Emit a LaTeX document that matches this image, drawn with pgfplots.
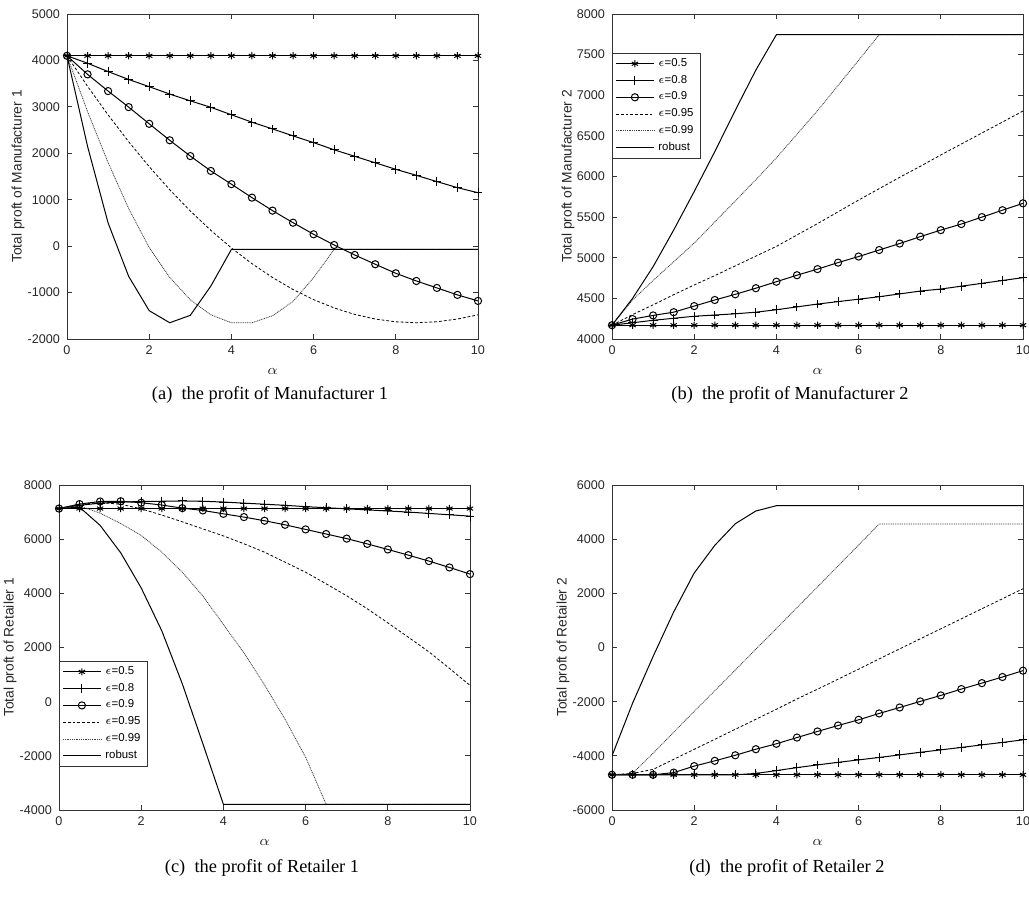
\documentclass[border=0pt]{standalone}
\usepackage{fontspec}
\setmainfont{Liberation Serif}
\newfontfamily\arial{Liberation Sans}
\usepackage{pgfplots}
\usepackage{pgfplotstable}
\pgfplotsset{compat=1.18}

% columns: alpha, eps=0.5, 0.8, 0.9, 0.95, 0.99, robust
\pgfplotstableread{
x    e05   e08   e09   e095  e099  rob
0    4100  4100  4100  4100  4100  4100
0.5  4100  3940  3700  3443  2900  2150
1    4100  3760  3340  2827  1800  500
1.5  4100  3590  2995  2250  810   -650
2    4100  3435  2635  1712  -30   -1390
2.5  4100  3275  2280  1215  -675  -1650
3    4100  3130  1940  757   -1155 -1490
3.5  4100  2990  1620  340   -1480 -860
4    4100  2830  1335  -39   -1650 -70
4.5  4100  2670  1045  -377  -1650 -70
5    4100  2525  765   -675  -1500 -70
5.5  4100  2375  505   -934  -1190 -70
6    4100  2230  255   -1152 -680  -70
6.5  4100  2075  25    -1331 -70   -70
7    4100  1935  -190  -1471 -70   -70
7.5  4100  1795  -390  -1570 -70   -70
8    4100  1655  -585  -1630 -70   -70
8.5  4100  1525  -750  -1650 -70   -70
9    4100  1390  -900  -1629 -70   -70
9.5  4100  1260  -1050 -1570 -70   -70
10   4100  1150  -1180 -1480 -70   -70
}\manA

\pgfplotstableread{
x    e05   e08   e09   e095  e099  rob
0    4170  4170  4170  4170  4170  4170
0.5  4170  4200  4245  4300  4480  4500
1    4170  4230  4290  4420  4720  4890
1.5  4170  4255  4330  4545  4950  5340
2    4170  4280  4405  4665  5180  5815
2.5  4170  4295  4480  4780  5440  6305
3    4170  4310  4550  4900  5700  6815
3.5  4170  4330  4625  5020  5960  7310
4    4170  4360  4705  5140  6230  7745
4.5  4170  4395  4785  5280  6520  7745
5    4170  4430  4860  5420  6810  7745
5.5  4170  4460  4940  5565  7120  7745
6    4170  4490  5015  5710  7430  7745
6.5  4170  4520  5095  5850  7745  7745
7    4170  4555  5175  5990  7745  7745
7.5  4170  4590  5260  6125  7745  7745
8    4170  4615  5340  6265  7745  7745
8.5  4170  4650  5415  6400  7745  7745
9    4170  4685  5500  6535  7745  7745
9.5  4170  4720  5585  6670  7745  7745
10   4170  4755  5670  6806  7745  7745
}\manB

\pgfplotstableread{
x    e05   e08   e09   e095  e099  rob
0    7130  7130  7130  7130  7130  7130
0.5  7130  7250  7295  7290  7230  7180
1    7130  7330  7390  7350  6960  6510
1.5  7130  7370  7400  7290  6580  5500
2    7130  7390  7345  7120  6140  4200
2.5  7130  7400  7260  6890  5520  2620
3    7130  7410  7145  6640  4780  660
3.5  7130  7400  7060  6380  3900  -1550
4    7130  7370  6935  6120  2850  -3790
4.5  7130  7330  6815  5830  1800  -3790
5    7130  7290  6680  5520  620   -3790
5.5  7130  7250  6530  5150  -650  -3790
6    7130  7200  6360  4780  -2050 -3790
6.5  7130  7160  6190  4350  -3790 -3790
7    7130  7120  6020  3910  -3790 -3790
7.5  7130  7080  5825  3430  -3790 -3790
8    7130  7040  5620  2910  -3790 -3790
8.5  7130  7000  5410  2380  -3790 -3790
9    7130  6950  5190  1840  -3790 -3790
9.5  7130  6900  4955  1230  -3790 -3790
10   7130  6850  4710  600   -3790 -3790
}\retA

\pgfplotstableread{
x    e05   e08   e09   e095  e099  rob
0    -4700 -4700 -4700 -4700 -4700 -4000
0.5  -4700 -4700 -4700 -4650 -4650 -2060
1    -4700 -4700 -4700 -4500 -3900 -330
1.5  -4700 -4700 -4620 -4130 -3130 1310
2    -4700 -4700 -4380 -3760 -2360 2750
2.5  -4700 -4700 -4185 -3390 -1600 3770
3    -4700 -4700 -3980 -3020 -830  4570
3.5  -4700 -4650 -3755 -2650 -60   5040
4    -4700 -4545 -3555 -2280 700   5235
4.5  -4700 -4435 -3325 -1900 1470  5235
5    -4700 -4335 -3100 -1540 2240  5235
5.5  -4700 -4240 -2880 -1170 3010  5235
6    -4700 -4150 -2670 -800  3780  5235
6.5  -4700 -4060 -2435 -420  4560  5235
7    -4700 -3965 -2215 -50   4560  5235
7.5  -4700 -3870 -1990 320   4560  5235
8    -4700 -3780 -1770 690   4560  5235
8.5  -4700 -3690 -1535 1060  4560  5235
9    -4700 -3595 -1315 1430  4560  5235
9.5  -4700 -3505 -1090 1800  4560  5235
10   -4700 -3410 -855  2170  4560  5235
}\retB

\pgfplotsset{
  prof/.style={
    scale only axis, width=205.5pt, height=162.5pt,
    xmin=0, xmax=10, xtick={0,2,...,10},
    axis line style={black!80, line width=0.4pt},
    tick style={black!80, line width=0.4pt},
    major tick length=2.5pt,
    tick label style={font=\arial\fontsize{6.3}{7}\selectfont, text=black!85},
    /pgf/number format/assume math mode=true,
    /pgf/number format/set thousands separator={},
    label style={font=\arial\fontsize{6.9}{8}\selectfont, text=black!85},
    xlabel={$\alpha$},
    ylabel style={at={(axis description cs:-0.119,0.5)}, anchor=center},
    legend cell align=left,
    legend style={font=\arial\fontsize{5.7}{6.8}\selectfont, draw=black!80,
      line width=0.4pt, inner xsep=1.5pt, inner ysep=1pt, row sep=0pt,
      nodes={inner xsep=2pt, inner ysep=1.45pt}},
    legend image code/.code={\draw[mark repeat=2,mark phase=2]
      plot coordinates {(0pt,0pt) (9.5pt,0pt) (19pt,0pt)};},
  },
  e05/.style={black, line width=0.5pt, mark=asterisk, mark size=1.8pt, mark options={solid}},
  e08/.style={black, line width=0.5pt, mark=+, mark size=2.2pt, mark options={solid}},
  e09/.style={black, line width=0.5pt, mark=o, mark size=1.8pt, mark options={solid}},
  e095/.style={black, line width=0.4pt, dash pattern=on 1.4pt off 1pt, no marks},
  e099/.style={black!75, line width=0.4pt, dash pattern=on 0.5pt off 0.4pt, no marks},
  rob/.style={black, line width=0.5pt, no marks},
}

\begin{document}
\begin{tikzpicture}
\useasboundingbox (0,0) rectangle (514.5pt,450.5pt);

\begin{axis}[prof, at={(33.5pt,281pt)}, anchor=south west,
  ymin=-2000, ymax=5000, ytick={-2000,-1000,...,5000},
  ylabel={Total proft of Manufacturer 1}]
\addplot[e05] table[x=x, y=e05] {\manA};
\addplot[e08] table[x=x, y=e08] {\manA};
\addplot[e09] table[x=x, y=e09] {\manA};
\addplot[e095] table[x=x, y=e095] {\manA};
\addplot[e099] table[x=x, y=e099] {\manA};
\addplot[rob] table[x=x, y=rob] {\manA};
\end{axis}

\begin{axis}[prof, at={(306pt,281pt)}, anchor=south west,
  ymin=4000, ymax=8000, ytick={4000,4500,...,8000},
  ylabel={Total proft of Manufacturer 2},
  ylabel style={at={(axis description cs:-0.107,0.5)}},
  legend style={at={(0,0.88)}, anchor=north west}]
\addplot[e05] table[x=x, y=e05] {\manB};
\addplot[e08] table[x=x, y=e08] {\manB};
\addplot[e09] table[x=x, y=e09] {\manB};
\addplot[e095] table[x=x, y=e095] {\manB};
\addplot[e099] table[x=x, y=e099] {\manB};
\addplot[rob] table[x=x, y=rob] {\manB};
\legend{$\epsilon$=0.5, $\epsilon$=0.8, $\epsilon$=0.9, $\epsilon$=0.95, $\epsilon$=0.99, robust}
\end{axis}

\begin{axis}[prof, at={(29.5pt,45.5pt)}, anchor=south west,
  ymin=-4000, ymax=8000, ytick={-4000,-2000,...,8000},
  ylabel={Total proft of Retailer 1},
  legend style={at={(0,0.133)}, anchor=south west}]
\addplot[e05] table[x=x, y=e05] {\retA};
\addplot[e08] table[x=x, y=e08] {\retA};
\addplot[e09] table[x=x, y=e09] {\retA};
\addplot[e095] table[x=x, y=e095] {\retA};
\addplot[e099] table[x=x, y=e099] {\retA};
\addplot[rob] table[x=x, y=rob] {\retA};
\legend{$\epsilon$=0.5, $\epsilon$=0.8, $\epsilon$=0.9, $\epsilon$=0.95, $\epsilon$=0.99, robust}
\end{axis}

\begin{axis}[prof, at={(306pt,45.5pt)}, anchor=south west,
  ymin=-6000, ymax=6000, ytick={-6000,-4000,...,6000},
  ylabel={Total proft of Retailer 2}]
\addplot[e05] table[x=x, y=e05] {\retB};
\addplot[e08] table[x=x, y=e08] {\retB};
\addplot[e09] table[x=x, y=e09] {\retB};
\addplot[e095] table[x=x, y=e095] {\retB};
\addplot[e099] table[x=x, y=e099] {\retB};
\addplot[rob] table[x=x, y=rob] {\retB};
\end{axis}

\begin{scope}[every node/.style={anchor=base, font=\fontsize{9.2}{11}\selectfont}]
\node at (135pt,250.5pt) {(a)\ \ the profit of Manufacturer 1};
\node at (395pt,250.5pt) {(b)\ \ the profit of Manufacturer 2};
\node at (131pt,14.5pt) {(c)\ \ the profit of Retailer 1};
\node at (393.5pt,14.5pt) {(d)\ \ the profit of Retailer 2};
\end{scope}
\end{tikzpicture}
\end{document}
